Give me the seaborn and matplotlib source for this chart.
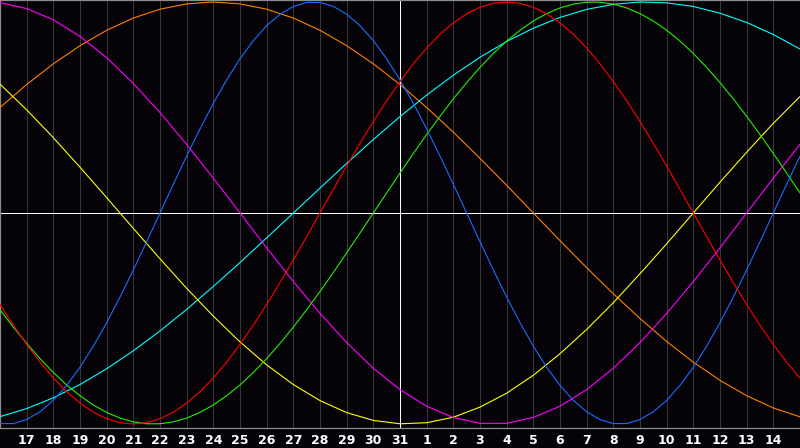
import matplotlib
matplotlib.use("Agg")
import matplotlib.pyplot as plt
import seaborn as sns
import pandas as pd

# day labels for positions 0..30
days = [16, 17, 18, 19, 20, 21, 22, 23, 24, 25, 26, 27, 28, 29, 30, 31,
        1, 2, 3, 4, 5, 6, 7, 8, 9, 10, 11, 12, 13, 14, 15]

# fast cycles read every half day
physical = [-0.998, -0.998, -0.979, -0.942, -0.888, -0.817, -0.731, -0.631, -0.520, -0.398,
            -0.270, -0.136, 0.000, 0.136, 0.270, 0.398, 0.520, 0.631, 0.731, 0.817,
            0.888, 0.942, 0.979, 0.998, 0.998, 0.979, 0.942, 0.888, 0.817, 0.731,
            0.631, 0.520, 0.398, 0.270, 0.136, 0.000, -0.136, -0.270, -0.398, -0.520,
            -0.631, -0.731, -0.817, -0.888, -0.942, -0.979, -0.998, -0.998, -0.979, -0.942,
            -0.888, -0.817, -0.731, -0.631, -0.520, -0.398, -0.270, -0.136, 0.000, 0.136, 0.270]
emotional = [-0.434, -0.532, -0.623, -0.707, -0.782, -0.847, -0.901, -0.944, -0.975, -0.994,
             -1.000, -0.994, -0.975, -0.944, -0.901, -0.847, -0.782, -0.707, -0.623, -0.532,
             -0.434, -0.330, -0.223, -0.112, 0.000, 0.112, 0.223, 0.330, 0.434, 0.532,
             0.623, 0.707, 0.782, 0.847, 0.901, 0.944, 0.975, 0.994, 1.000, 0.994,
             0.975, 0.944, 0.901, 0.847, 0.782, 0.707, 0.623, 0.532, 0.434, 0.330,
             0.223, 0.112, 0.000, -0.112, -0.223, -0.330, -0.434, -0.532, -0.623, -0.707, -0.782]
intellectual = [-0.458, -0.541, -0.618, -0.690, -0.756, -0.815, -0.866, -0.910, -0.945, -0.972,
                -0.990, -0.999, -0.999, -0.990, -0.972, -0.945, -0.910, -0.866, -0.815, -0.756,
                -0.690, -0.618, -0.541, -0.458, -0.372, -0.282, -0.189, -0.095, 0.000, 0.095,
                0.189, 0.282, 0.372, 0.458, 0.541, 0.618, 0.690, 0.756, 0.815, 0.866,
                0.910, 0.945, 0.972, 0.990, 0.999, 0.999, 0.990, 0.972, 0.945, 0.910,
                0.866, 0.815, 0.756, 0.690, 0.618, 0.541, 0.458, 0.372, 0.282, 0.189, 0.095]
# slow cycles read every day
awareness = [0.500, 0.609, 0.707, 0.793, 0.866, 0.924, 0.966, 0.991, 1.000, 0.991,
             0.966, 0.924, 0.866, 0.793, 0.707, 0.609, 0.500, 0.383, 0.259, 0.131,
             0.000, -0.131, -0.259, -0.383, -0.500, -0.609, -0.707, -0.793, -0.866, -0.924, -0.966]
spiritual = [-0.965, -0.927, -0.876, -0.813, -0.738, -0.653, -0.559, -0.457, -0.348, -0.235,
             -0.118, 0.000, 0.118, 0.235, 0.348, 0.457, 0.559, 0.653, 0.738, 0.813,
             0.876, 0.927, 0.965, 0.989, 1.000, 0.996, 0.979, 0.947, 0.903, 0.846, 0.777]
aesthetic = [0.611, 0.489, 0.357, 0.217, 0.073, -0.073, -0.217, -0.357, -0.489, -0.611,
             -0.720, -0.813, -0.889, -0.946, -0.983, -0.999, -0.994, -0.968, -0.920, -0.854,
             -0.769, -0.667, -0.552, -0.425, -0.288, -0.146, 0.000, 0.146, 0.288, 0.425, 0.552]
intuitive = [0.997, 0.969, 0.916, 0.837, 0.736, 0.614, 0.476, 0.325, 0.165, 0.000,
             -0.165, -0.325, -0.476, -0.614, -0.736, -0.837, -0.916, -0.969, -0.997, -0.997,
             -0.969, -0.916, -0.837, -0.736, -0.614, -0.476, -0.325, -0.165, 0.000, 0.165, 0.325]

series = {
    "Awareness": awareness,
    "Spiritual": spiritual,
    "Aesthetic": aesthetic,
    "Intuitive": intuitive,
    "Intellectual": intellectual,
    "Physical": physical,
    "Emotional": emotional,
}
palette = {
    "Physical": "#1a6cff",
    "Emotional": "#ff0000",
    "Intellectual": "#22ee00",
    "Awareness": "#ff8000",
    "Spiritual": "#00ffff",
    "Aesthetic": "#ffff00",
    "Intuitive": "#ff00ff",
}

n_days = len(days) - 1
rows = []
for name, vals in series.items():
    step = n_days / (len(vals) - 1)
    for i, v in enumerate(vals):
        rows.append({"pos": i * step, "value": v, "series": name})
df = pd.DataFrame(rows)

sns.set_theme(style="dark")
bg = "#050308"
fig = plt.figure(figsize=(8, 4.48), dpi=100, facecolor=bg)
ax = fig.add_axes([0, 20 / 448, 1, 428 / 448])
ax.set_facecolor(bg)

# vertical day grid
for i in range(1, n_days):
    ax.axvline(i, color="#383838", lw=0.72, zorder=1, antialiased=False)

sns.lineplot(data=df, x="pos", y="value", hue="series", palette=palette,
             hue_order=list(series.keys()), legend=False, linewidth=0.8,
             ax=ax, zorder=3)

ax.axhline(0, color="white", lw=0.72, zorder=2, antialiased=False)
ax.axvline(15, color="white", lw=0.72, zorder=2, antialiased=False)

ax.set_xlim(0, n_days)
ax.set_ylim(-1.019, 1.0095)
ax.set_xlabel("")
ax.set_ylabel("")
ax.set_yticks([])
ax.set_xticks(list(range(1, n_days)))
ax.set_xticklabels([str(d) for d in days[1:-1]], color="white",
                   fontsize=9, fontweight="bold", family="DejaVu Sans")
ax.tick_params(axis="x", length=0, pad=4)
ax.grid(False)
for side in ["left", "top", "bottom"]:
    ax.spines[side].set_visible(True)
    ax.spines[side].set_color("#8c8c8c")
    ax.spines[side].set_linewidth(0.9)
ax.spines["right"].set_visible(False)

fig.savefig("out.png", dpi=100, facecolor=bg)
